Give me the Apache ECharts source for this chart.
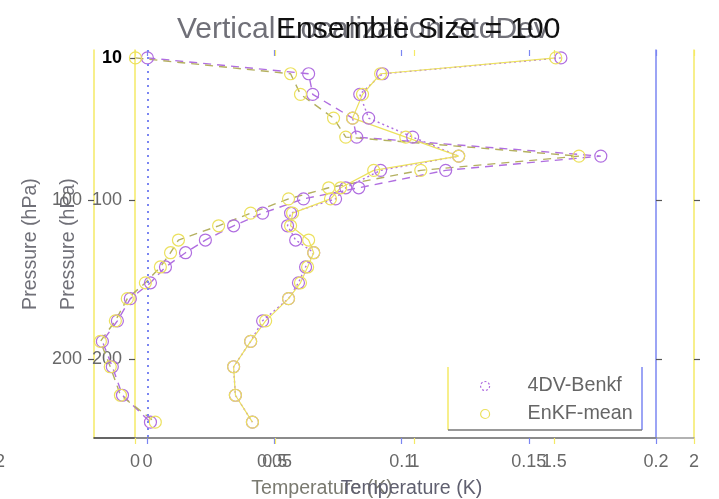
<!DOCTYPE html>
<html><head><meta charset="utf-8">
<script src="https://cdn.jsdelivr.net/npm/echarts@6/dist/echarts.min.js"></script>
<style>html,body{margin:0;padding:0;background:#fff}#c{width:719px;height:499px}</style>
</head><body><div id="c"></div>
<script>
// ---- data ----
const pressureLevels = [10,20,33,48,60,72,81,92,99,108,116,125,133,142,152,162,176,189,205,223,240];
const leftBenkf  = [0.000,0.0634,0.065,0.0807,0.0823,0.1783,0.1173,0.0831,0.0614,0.0453,0.0339,0.0228,0.0150,0.0071,0.0012,-0.0067,-0.0118,-0.0177,-0.0138,-0.0098,0.0012];
const leftEnkf   = [-0.0047,0.0563,0.0602,0.0732,0.0780,0.1697,0.1075,0.0713,0.0555,0.0406,0.0280,0.0122,0.0091,0.0051,-0.0008,-0.0079,-0.0126,-0.0185,-0.0146,-0.0106,0.0031];
const rightBenkf = [0.1626,0.0925,0.0835,0.0870,0.1043,0.1224,0.0917,0.0780,0.0740,0.0563,0.0551,0.0583,0.0654,0.0622,0.0594,0.0555,0.0453,0.0406,0.0339,0.0346,0.0413];
const rightEnkf  = [0.1606,0.0917,0.0846,0.0807,0.1016,0.1224,0.0890,0.0760,0.0720,0.0571,0.0563,0.0634,0.0654,0.0630,0.0602,0.0555,0.0465,0.0406,0.0339,0.0346,0.0413];
const tempTicksA = [0,0.05,0.1,0.15,0.2];
const tempTicksB = [0,0.5,1,1.5,2];
const pressTicksA = [100,200];
const pressTicksB = [10,100,200];
const seriesNames = ['4DV-Benkf','EnKF-mean'];
const titleA = 'Vertical Localization StdDev';
const titleB = 'Ensemble Size = 100';
const xName = 'Temperature (K)';
const yName = 'Pressure (hPa)';

// ---- font handling ----
const mctx = document.createElement('canvas').getContext('2d');
function fontAvailable(name){
  const s = 'mmmmmmmmmmlli Ensemble 0123';
  for (const base of ['monospace','serif']) {
    mctx.font = '40px ' + base; const w0 = mctx.measureText(s).width;
    mctx.font = '40px "' + name + '",' + base; const w1 = mctx.measureText(s).width;
    if (Math.abs(w0 - w1) > 0.5) return true;
  }
  return false;
}
const FONT = ['Liberation Sans Narrow'].find(fontAvailable) || 'Liberation Sans';
function fitSize(text, width, weight){
  mctx.font = (weight||'normal') + ' 100px "' + FONT + '"';
  return Math.round(100 * width / mctx.measureText(text).width * 10) / 10;
}
const titleSize = fitSize(titleB, 284);
const tickSize = fitSize('100', 30);
const nameSize = fitSize(yName, 132);
const legendSize = fitSize('EnKF-mean', 105);

const gray = '#686868';
const purple = '#b06ee0';
const yellow = '#ece15e';
const olive = '#b4b060';
const blue = '#7b86f2';
const axisYellow = '#f5ea66';

const pts = vals => pressureLevels.map((p,i) => [vals[i], p]);

const chart = echarts.init(document.getElementById('c'), null, {renderer:'canvas'});
const baseX = (grid, min, max, ticks, pos, color) => ({
  type:'value', gridIndex:grid, min:min, max:max, position:pos,
  axisLine:{show:false, onZero:false},
  axisTick:{show:true, inside:pos==='top', length:6, customValues:ticks, lineStyle:{color:color, width:1.2}},
  axisLabel:{show:false}, splitLine:{show:false}
});
const xA = baseX(0, -0.021, 0.2, tempTicksA, 'bottom', blue);
Object.assign(xA, {
  axisLine:{show:true, onZero:false, lineStyle:{color:'#333', width:1.5}},
  axisLabel:{show:true, customValues:tempTicksA, margin:15, color:gray, fontSize:tickSize, fontFamily:FONT},
  name:xName, nameLocation:'middle', nameGap:41,
  nameTextStyle:{fontSize:nameSize, color:'#7a7a70', fontFamily:FONT, padding:[0,106,0,0]}
});
const xB = baseX(1, 0, 2, tempTicksB, 'bottom', axisYellow);
Object.assign(xB, {
  axisLine:{show:true, onZero:false, lineStyle:{color:'#999', width:1.5}},
  axisLabel:{show:true, customValues:tempTicksB, margin:15, color:gray, fontSize:tickSize, fontFamily:FONT},
  name:xName, nameLocation:'middle', nameGap:41,
  nameTextStyle:{fontSize:nameSize, color:'#606070', fontFamily:FONT, padding:[0,6,0,0]}
});

const baseY = (grid, ticks, pos, lineColor) => ({
  type:'value', gridIndex:grid, min:5, max:250, inverse:true, position:pos,
  axisLine:{show:true, onZero:false, lineStyle:{color:lineColor, width:1.5}},
  axisTick:{show:true, length:6, customValues:ticks, lineStyle:{color:'#555', width:1.2}},
  axisLabel:{show:false}, splitLine:{show:false}
});
const yA = baseY(0, pressTicksA, 'left', axisYellow);
Object.assign(yA, {
  axisLabel:{show:true, customValues:pressTicksA, margin:12, color:gray, fontSize:tickSize, fontFamily:FONT},
  name:yName, nameLocation:'middle', nameGap:52,
  nameTextStyle:{fontSize:nameSize, color:'#707078', fontFamily:FONT}
});
const yB = baseY(1, pressTicksB, 'left', axisYellow);
Object.assign(yB, {
  axisLabel:{show:true, customValues:pressTicksB, margin:13, fontFamily:FONT,
    formatter: v => v === 10 ? '{b|' + v + '}' : '{g|' + v + '}',
    rich:{ b:{fontWeight:'bold', color:'#000', fontSize:tickSize, fontFamily:'Liberation Sans'},
           g:{color:gray, fontSize:tickSize, fontFamily:FONT} }},
  name:yName, nameLocation:'middle', nameGap:56,
  nameTextStyle:{fontSize:nameSize, color:'#707078', fontFamily:FONT}
});
const yAr = baseY(0, pressTicksA, 'right', blue);
const yBr = baseY(1, pressTicksA, 'right', axisYellow);

const lineSeries = (name, vals, lineColor, markColor, ltype, extra) => Object.assign({
  name:name, type:'line', xAxisIndex:0, yAxisIndex:0, data:pts(vals),
  symbol:'circle', symbolSize:12, showSymbol:true,
  lineStyle:{color:lineColor, width:1.4, type:ltype},
  itemStyle:{color:'rgba(255,255,255,0)', borderColor:markColor, borderWidth:1.2},
  emphasis:{disabled:true}, animation:false
}, extra||{});

const option = {
  animation:false,
  textStyle:{fontFamily:FONT},
  title:[
    {text:titleA, left:177, top:15, padding:0, textStyle:{fontSize:titleSize, fontWeight:'normal', color:'#707078', fontFamily:FONT}},
    {text:titleB, left:276, top:15, padding:0, textStyle:{fontSize:titleSize, fontWeight:'normal', color:'#111', fontFamily:FONT}}
  ],
  grid:[
    {left:94, right:63, top:50, bottom:61, outerBoundsMode:'none', containLabel:false},
    {left:135, right:25, top:50, bottom:61, outerBoundsMode:'none', containLabel:false}
  ],
  xAxis:[xA, xB, baseX(0,-0.021,0.2,tempTicksA,'top',blue), baseX(1,0,2,tempTicksB,'top',axisYellow)],
  yAxis:[yA, yB, yAr, yBr],
  legend:{
    data:[
      {name:seriesNames[0], icon:'circle', itemStyle:{color:'#fff', borderColor:purple, borderWidth:1.2, borderType:[2,2]}},
      {name:seriesNames[1], icon:'circle', itemStyle:{color:'#fff', borderColor:yellow, borderWidth:1.2}}
    ],
    orient:'vertical', left:480, top:376, padding:0,
    itemWidth:9, itemHeight:9, itemGap:8,
    textStyle:{fontSize:legendSize, color:'#666', fontFamily:FONT, padding:[0,0,0,33]}
  },
  graphic:[
    {type:'line', shape:{x1:448,y1:367,x2:448,y2:430}, style:{stroke:axisYellow, lineWidth:1.5}},
    {type:'line', shape:{x1:642,y1:367,x2:642,y2:430}, style:{stroke:blue, lineWidth:1.5}},
    {type:'line', shape:{x1:448,y1:430,x2:642,y2:430}, style:{stroke:'#777', lineWidth:1.5}},
    {type:'text', x:-5, y:453, style:{text:'2', fontSize:tickSize, fill:gray, fontFamily:FONT}}
  ],
  series:[
    lineSeries(seriesNames[0], leftBenkf, purple, purple, [8,6], {
      markLine:{silent:true, symbol:'none', label:{show:false}, animation:false,
        lineStyle:{color:blue, type:[2,5], width:2}, data:[{xAxis:0}]}
    }),
    lineSeries(seriesNames[1], leftEnkf, olive, yellow, [8,6]),
    lineSeries(seriesNames[0], rightBenkf, purple, purple, [2,3]),
    lineSeries(seriesNames[1], rightEnkf, yellow, yellow, 'solid', {lineStyle:{color:yellow, width:1.2, type:'solid'}})
  ]
};
chart.setOption(option);
</script>
</body></html>
